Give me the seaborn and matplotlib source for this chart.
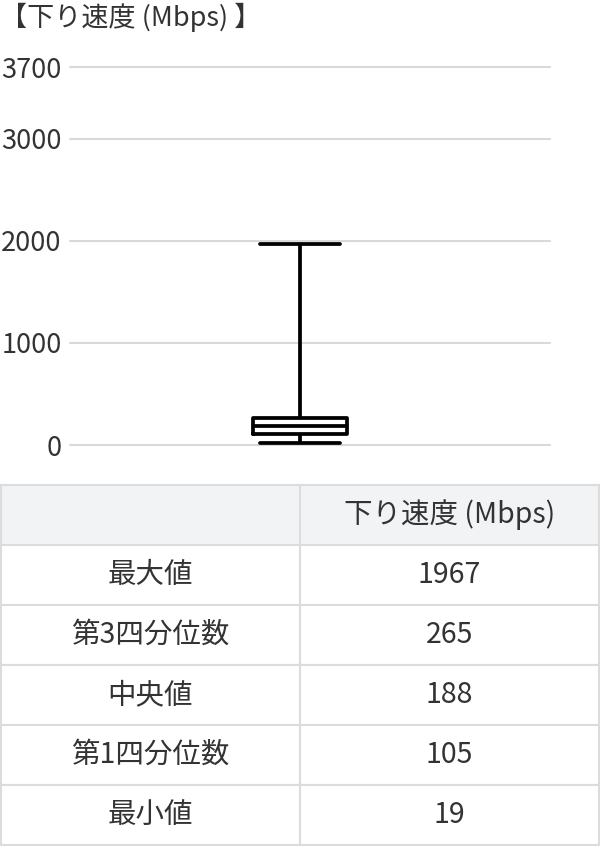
import pandas as pd
import seaborn as sns
import matplotlib.pyplot as plt

title = '【下り速度 (Mbps) 】'
series_name = '下り速度 (Mbps)'
stat_names = ['最大値', '第3四分位数', '中央値', '第1四分位数', '最小値']
stat_values = [1967, 265, 188, 105, 19]
y_ticks = [0, 1000, 2000, 3000, 3700]

sns.set_theme(style='white')
plt.rcParams['font.family'] = ['Noto Sans CJK JP', 'DejaVu Sans']

text_color = '#333333'
grid_color = '#d9d9d9'
border_color = '#dcdcdc'
header_bg = '#f2f3f5'

W, H = 600, 846
fig = plt.figure(figsize=(W / 100, H / 100), dpi=100)

# box plot area
ax = fig.add_axes([70 / W, (H - 445) / H, 480 / W, (445 - 67) / H])
# five values -> quartiles land exactly on the summary stats, whiskers at min/max
df = pd.DataFrame({'speed': sorted(stat_values), 'name': series_name})
sns.boxplot(data=df, x='name', y='speed', whis=(0, 100), width=0.196,
            fill=False, color='black', linewidth=2.7, showfliers=False,
            capwidths=0.167, ax=ax)
# box sits a little left of the plot centre in the original
ax.set_xlim(-230 / 480, 250 / 480)
ax.set_ylim(0, 3700)
ax.set_yticks(y_ticks)
ax.set_xticks([])
ax.set_xlabel('')
ax.set_ylabel('')
ax.grid(axis='y', color=grid_color, linewidth=1.5)
ax.set_axisbelow(True)
for gl in ax.get_ygridlines():
    gl.set_clip_on(False)
for s in ax.spines.values():
    s.set_visible(False)
ax.tick_params(axis='y', length=0, pad=6, labelsize=19.5, labelcolor=text_color)

fig.text(0, 1 - 17 / H, title, ha='left', va='center', fontsize=19.5, color=text_color)

# summary table
tax = fig.add_axes([1 / W, 1 / H, 598 / W, 360 / H])
tax.axis('off')
rows = [['', series_name]] + [[n, str(v)] for n, v in zip(stat_names, stat_values)]
tbl = tax.table(cellText=rows, cellLoc='center', bbox=[0, 0, 1, 1])
tbl.auto_set_font_size(False)
for (r, c), cell in tbl.get_celld().items():
    cell.set_edgecolor(border_color)
    cell.set_linewidth(1.5)
    cell.set_facecolor(header_bg if r == 0 else 'white')
    cell.get_text().set_fontsize(20.5)
    cell.get_text().set_color(text_color)

fig.savefig('out.png', dpi=100)
